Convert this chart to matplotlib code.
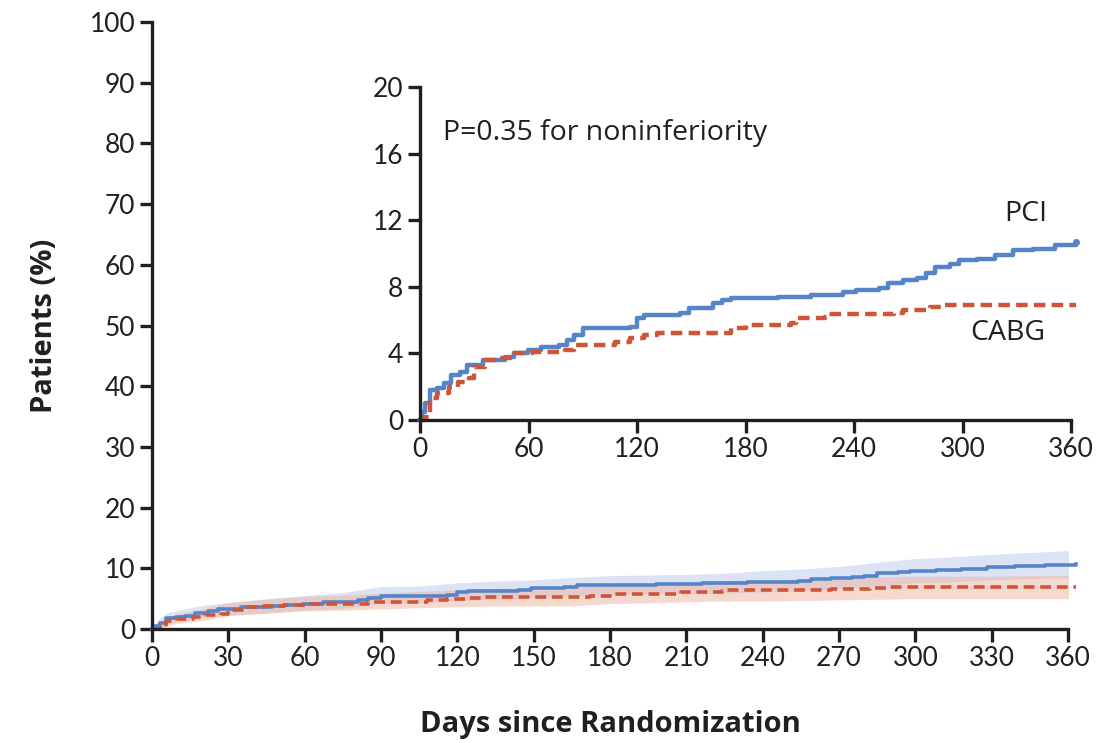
import matplotlib
matplotlib.use('Agg')
from matplotlib import pyplot as plt
import numpy as np

# Kaplan-Meier style step data (days, cumulative %)
pci_days = [0, 1, 3, 5.6, 9.5, 13, 17, 22, 26, 35, 47, 52, 59.5, 67, 77, 81, 85, 90, 116, 120,
            124, 144, 149, 162, 167, 172, 198, 216, 234, 241, 254, 259, 267, 275, 280, 285, 293,
            298, 308, 318, 328, 339, 351, 363]
pci_vals = [0, 0.5, 1.0, 1.8, 1.9, 2.2, 2.7, 2.9, 3.3, 3.6, 3.8, 4.0, 4.2, 4.4, 4.5, 4.8, 5.1,
            5.5, 5.6, 6.1, 6.3, 6.4, 6.75, 7.0, 7.2, 7.3, 7.4, 7.5, 7.7, 7.8, 7.9, 8.2, 8.4, 8.5,
            8.8, 9.2, 9.4, 9.6, 9.7, 9.9, 10.2, 10.3, 10.5, 10.7]

cabg_days = [0, 3, 5.6, 9.5, 16, 21, 27, 30, 36, 44, 52, 62, 80, 85, 108, 116, 124, 131, 167,
             172, 180, 205, 208, 224, 226, 262, 267, 282, 290, 363]
cabg_vals = [0, 0.2, 1.3, 1.6, 2.0, 2.3, 2.5, 3.2, 3.6, 3.75, 4.0, 4.1, 4.2, 4.5, 4.7, 4.9, 5.1,
             5.2, 5.2, 5.5, 5.7, 5.8, 6.1, 6.2, 6.35, 6.4, 6.6, 6.8, 6.9, 6.9]

# confidence bands (main panel)
band_days = [0, 3, 6, 10, 15, 20, 30, 45, 60, 75, 90, 105, 120, 135, 150, 165, 180, 195, 210,
             225, 240, 255, 270, 285, 300, 315, 330, 345, 363]
pci_hi = [0, 1.8, 2.7, 3.0, 3.5, 3.9, 4.4, 5.0, 5.5, 6.0, 7.0, 7.1, 7.6, 7.9, 8.1, 8.5, 8.8,
          8.9, 9.0, 9.2, 9.6, 9.9, 10.3, 11.0, 11.6, 11.9, 12.3, 12.6, 13.0]
pci_lo = [0, 0.3, 1.0, 1.2, 1.5, 1.9, 2.3, 2.7, 3.1, 3.4, 4.2, 4.3, 4.7, 4.9, 5.2, 5.5, 5.7,
          5.8, 5.8, 5.9, 6.1, 6.3, 6.6, 7.1, 7.6, 7.8, 8.1, 8.3, 8.5]
cabg_hi = [0, 0.9, 2.0, 2.5, 2.9, 3.3, 4.3, 4.9, 5.4, 5.6, 5.9, 6.2, 6.5, 6.7, 6.8, 6.9, 7.4,
           7.5, 7.8, 8.0, 8.1, 8.2, 8.4, 8.6, 8.7, 8.7, 8.7, 8.8, 8.8]
cabg_lo = [0, 0.0, 0.6, 0.9, 1.2, 1.4, 2.2, 2.6, 3.0, 3.1, 3.3, 3.5, 3.7, 3.8, 3.8, 3.8, 4.2,
           4.3, 4.5, 4.6, 4.6, 4.7, 4.8, 4.9, 5.0, 5.0, 5.0, 5.0, 5.0]

main_yticks = list(range(0, 101, 10))
main_xticks = list(range(0, 361, 30))
inset_yticks = [0, 4, 8, 12, 16, 20]
inset_xticks = [0, 60, 120, 180, 240, 300, 360]

blue = '#5585c8'
red = '#cf5539'
txt = '#231f20'
tick_fam = ['Lato', 'DejaVu Sans']
lab_fam = ['Open Sans', 'DejaVu Sans']


def style_axes(ax, fs):
    for s in ['top', 'right']:
        ax.spines[s].set_visible(False)
    for s in ['left', 'bottom']:
        ax.spines[s].set_linewidth(2.4)
        ax.spines[s].set_color(txt)
    ax.tick_params(direction='out', length=9, width=2.4, color=txt,
                   labelsize=fs, labelcolor=txt, pad=3)
    for lab in ax.get_xticklabels() + ax.get_yticklabels():
        lab.set_family(tick_fam)


fig = plt.figure(figsize=(10.97, 7.43), dpi=100)

ax = fig.add_axes([0.1386, 0.1534, 0.835, 0.817])
ax.fill_between(band_days, pci_lo, pci_hi, color='#c3d1ee', alpha=0.6, lw=0)
ax.fill_between(band_days, cabg_lo, cabg_hi, color='#eeb3a0', alpha=0.5, lw=0)
ax.step(pci_days, pci_vals, where='post', color=blue, lw=2.6, clip_on=False)
ax.step(cabg_days, cabg_vals, where='post', color=red, lw=2.6, ls=(0, (3, 1.6)), clip_on=False)
ax.set_xlim(0, 360)
ax.set_ylim(0, 100)
ax.set_xticks(main_xticks)
ax.set_yticks(main_yticks)
style_axes(ax, 19)
ax.set_ylabel('Patients (%)', fontsize=21, fontweight='bold', color=txt, labelpad=22,
              family=lab_fam)
ax.set_xlabel('Days since Randomization', fontsize=21, fontweight='bold', color=txt, labelpad=28,
              family=lab_fam)

axi = fig.add_axes([0.3829, 0.4347, 0.5934, 0.4482])
axi.step(pci_days, pci_vals, where='post', color=blue, lw=3.2, clip_on=False)
axi.step(cabg_days, cabg_vals, where='post', color=red, lw=3.2, ls=(0, (2.6, 1.4)), clip_on=False)
axi.plot(pci_days[-1], pci_vals[-1], 'o', color=blue, ms=4, clip_on=False)
axi.set_xlim(0, 360)
axi.set_ylim(0, 20)
axi.set_xticks(inset_xticks)
axi.set_yticks(inset_yticks)
axi.patch.set_alpha(0)
style_axes(axi, 19)
axi.text(0.035, 0.862, 'P=0.35 for noninferiority', transform=axi.transAxes, fontsize=20.5,
         color=txt, va='center', ha='left', family=lab_fam)
axi.text(0.93, 0.62, 'PCI', transform=axi.transAxes, fontsize=20.5, color=txt,
         va='center', ha='center', family=lab_fam)
axi.text(0.903, 0.26, 'CABG', transform=axi.transAxes, fontsize=20.5, color=txt,
         va='center', ha='center', family=lab_fam)

fig.savefig('out.png', dpi=100)
